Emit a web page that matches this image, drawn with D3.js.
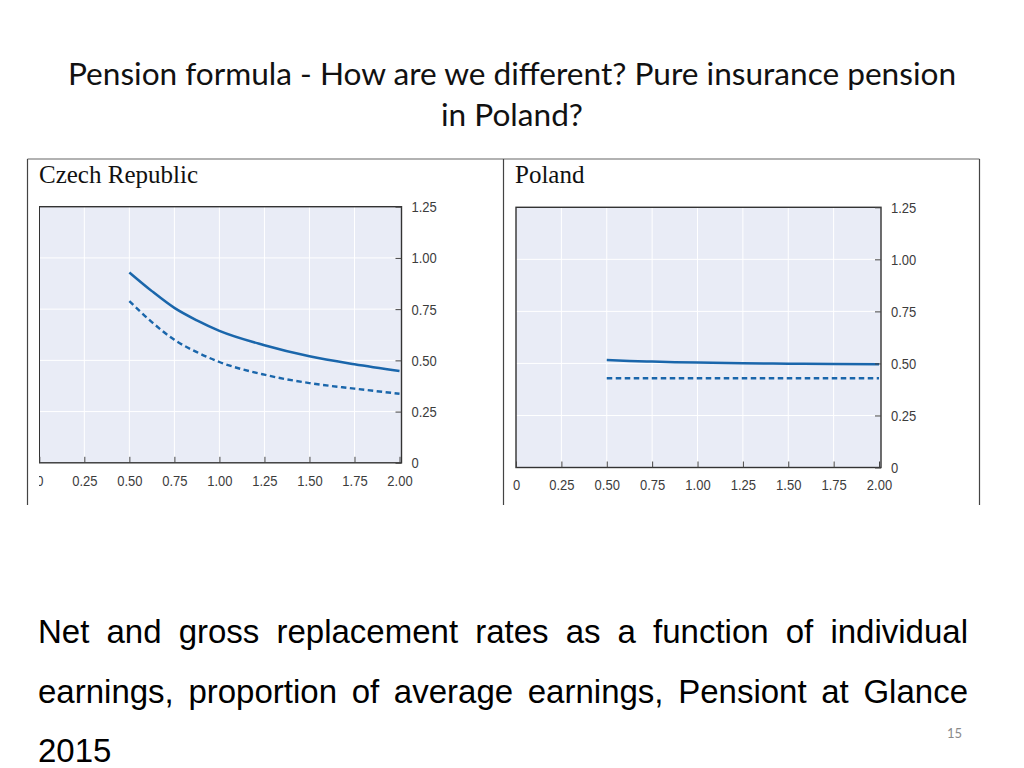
<!DOCTYPE html>
<html>
<head>
<meta charset="utf-8">
<script src="https://cdn.jsdelivr.net/npm/d3@7"></script>
<style>
  html, body { margin: 0; padding: 0; background: #fff; }
  svg { display: block; }
</style>
</head>
<body>
<svg id="c" width="1024" height="768"></svg>
<script>
// ---- data ----
const titleLines = ["Pension formula - How are we different? Pure insurance pension", "in Poland?"];
const captionLines = [
  "Net and gross replacement rates as a function of individual",
  "earnings, proportion of average earnings, Pensiont at Glance",
  "2015"
];
const pageNumber = "15";
const panelNames = ["Czech Republic", "Poland"];
const xTicks = [0, 0.25, 0.5, 0.75, 1.0, 1.25, 1.5, 1.75, 2.0];
const yTicks = [0, 0.25, 0.5, 0.75, 1.0, 1.25];
const earnings = [0.5, 0.625, 0.75, 0.875, 1.0, 1.25, 1.5, 1.75, 2.0];
const czechNet   = [0.929, 0.838, 0.756, 0.695, 0.644, 0.574, 0.520, 0.481, 0.448];
const czechGross = [0.789, 0.687, 0.600, 0.540, 0.492, 0.430, 0.389, 0.362, 0.337];
const polandNet   = [0.517, 0.512, 0.509, 0.506, 0.504, 0.501, 0.499, 0.497, 0.496];
const polandGross = [0.429, 0.429, 0.429, 0.429, 0.429, 0.429, 0.429, 0.429, 0.429];

const svg = d3.select("#c");

// ---- title ----
svg.append("g").selectAll("text").data(titleLines).join("text")
  .attr("x", 512).attr("y", (d, i) => 85 + i * 41)
  .attr("text-anchor", "middle")
  .style("font-family", "Lato, 'Open Sans', sans-serif")
  .style("font-size", "31.6px").attr("fill", "#111")
  .text(d => d);

// ---- frame ----
const frame = svg.append("g").attr("stroke", "#444").attr("stroke-width", 1.2).attr("fill", "none");
frame.append("line").attr("x1", 27.5).attr("x2", 979.5).attr("y1", 159).attr("y2", 159).attr("stroke", "#666");
[27.5, 503.5, 979.5].forEach(x => frame.append("line").attr("x1", x).attr("x2", x).attr("y1", 159).attr("y2", 505));

// ---- panels ----
const panels = [
  { name: panelNames[0], lx: 39, plot: { x0: 39.3, x1: 401.5, y0: 206.7, y1: 462.8 }, net: czechNet, gross: czechGross, clipLeft: 39 },
  { name: panelNames[1], lx: 515, plot: { x0: 516, x1: 881, y0: 207.3, y1: 467.5 }, net: polandNet, gross: polandGross, clipLeft: 505 }
];

const lineColor = "#1a66ab";
const squeeze = 0.84;

panels.forEach((p, idx) => {
  const g = svg.append("g");
  const clipId = "clip" + idx;
  svg.append("defs").append("clipPath").attr("id", clipId)
    .append("rect").attr("x", p.clipLeft).attr("y", 160).attr("width", (idx === 0 ? 503 : 979) - p.clipLeft).attr("height", 345);
  const cg = g.append("g").attr("clip-path", `url(#${clipId})`);

  g.append("text").attr("x", p.lx).attr("y", 183)
    .style("font-family", "'Liberation Serif', 'Times New Roman', serif")
    .style("font-size", "25px").attr("fill", "#111").text(p.name);

  const x = d3.scaleLinear().domain([0, 2]).range([p.plot.x0, p.plot.x1 - 2]);
  const y = d3.scaleLinear().domain([0, 1.25]).range([p.plot.y1, p.plot.y0]);

  cg.append("rect").attr("x", p.plot.x0).attr("y", p.plot.y0)
    .attr("width", p.plot.x1 - p.plot.x0).attr("height", p.plot.y1 - p.plot.y0)
    .attr("fill", "#e9ecf6");

  // gridlines
  cg.append("g").selectAll("line.v").data(xTicks.slice(1, -1)).join("line")
    .attr("x1", d => x(d)).attr("x2", d => x(d)).attr("y1", p.plot.y0).attr("y2", p.plot.y1)
    .attr("stroke", "#fff").attr("stroke-width", 1);
  cg.append("g").selectAll("line.h").data(yTicks.slice(1, -1)).join("line")
    .attr("x1", p.plot.x0).attr("x2", p.plot.x1).attr("y1", d => y(d)).attr("y2", d => y(d))
    .attr("stroke", "#fff").attr("stroke-width", 1);

  // lines
  const lineGen = d3.line().x((d, i) => x(earnings[i])).y(d => y(d)).curve(d3.curveMonotoneX);
  cg.append("path").datum(p.gross).attr("d", lineGen)
    .attr("fill", "none").attr("stroke", lineColor).attr("stroke-width", 2.4).attr("stroke-dasharray", "5.5,3.5");
  cg.append("path").datum(p.net).attr("d", lineGen)
    .attr("fill", "none").attr("stroke", lineColor).attr("stroke-width", 2.5);

  // border
  cg.append("rect").attr("x", p.plot.x0).attr("y", p.plot.y0)
    .attr("width", p.plot.x1 - p.plot.x0).attr("height", p.plot.y1 - p.plot.y0)
    .attr("fill", "none").attr("stroke", "#333").attr("stroke-width", 1.4);

  const fmt = d => d === 0 ? "0" : d3.format(".2f")(d);

  // axes (ticks pointing inward)
  const xAxis = d3.axisBottom(x).tickValues(xTicks).tickSizeInner(-6).tickSizeOuter(0).tickPadding(12).tickFormat(fmt);
  const xg = cg.append("g").attr("transform", `translate(0,${p.plot.y1})`).call(xAxis);
  xg.select(".domain").remove();
  xg.selectAll(".tick line").attr("stroke", "#444");
  xg.selectAll(".tick text").attr("transform", `scale(${squeeze},1)`);

  const yAxis = d3.axisRight(y).tickValues(yTicks).tickSizeInner(-6).tickSizeOuter(0).tickPadding(10).tickFormat(fmt);
  const yg = cg.append("g").attr("transform", `translate(${p.plot.x1},0)`).call(yAxis);
  yg.select(".domain").remove();
  yg.selectAll(".tick line").attr("stroke", "#444");
  yg.selectAll(".tick text").attr("x", 10 / squeeze).attr("transform", `scale(${squeeze},1)`);

  [xg, yg].forEach(a => a.attr("font-size", null).selectAll("text")
    .style("font-family", "'Liberation Sans', Arial, sans-serif")
    .style("font-size", "15.5px").attr("fill", "#3c3c3c"));
});

// ---- caption (justified) ----
const capG = svg.append("g")
  .style("font-family", "'Liberation Sans', Arial, sans-serif")
  .style("font-size", "33px").attr("fill", "#000");
captionLines.forEach((t, i) => {
  const tx = capG.append("text").attr("x", 38).attr("y", 643 + i * 59.5).text(t);
  if (i < captionLines.length - 1) {
    const w = tx.node().getComputedTextLength();
    const gaps = t.split(" ").length - 1;
    tx.attr("word-spacing", ((968 - 38) - w) / gaps);
  }
});

// ---- page number ----
svg.append("text").attr("x", 962).attr("y", 738).attr("text-anchor", "end")
  .style("font-family", "Lato, sans-serif").style("font-size", "13px").attr("fill", "#8a8a8a")
  .text(pageNumber);
</script>
</body>
</html>
